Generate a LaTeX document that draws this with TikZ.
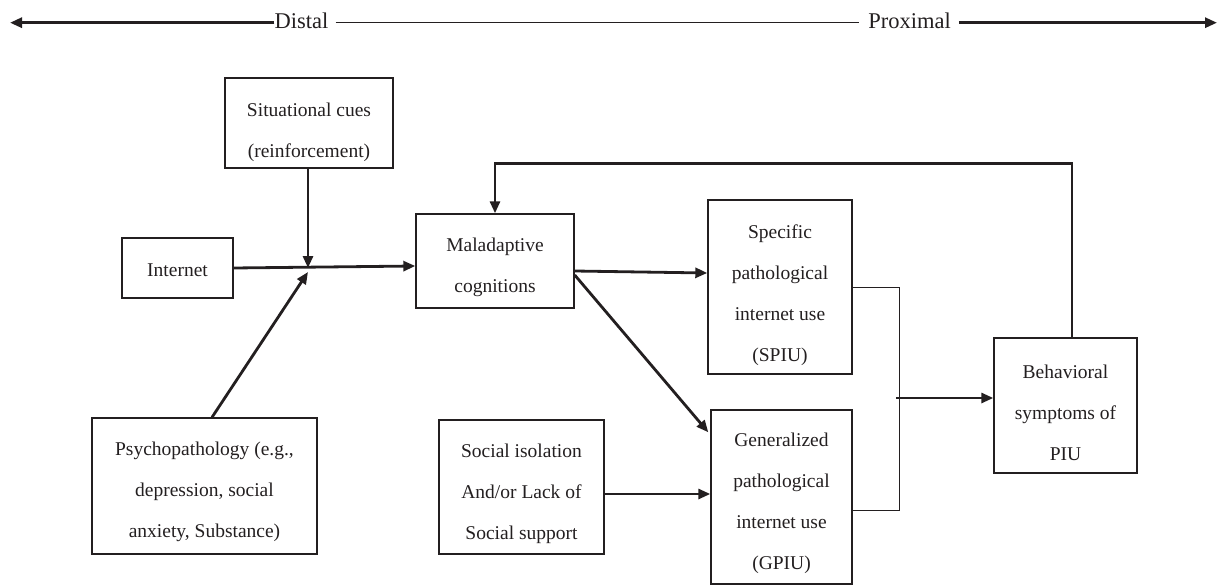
\documentclass[tikz,border=0pt]{standalone}
\usepackage{fontspec}
\setmainfont{Liberation Serif}
\usetikzlibrary{arrows.meta,calc}
\definecolor{ink}{RGB}{35,31,32}
\tikzset{
  box/.style={draw=ink, line width=1.4pt, rectangle, inner sep=0pt},
  txt/.style={text=ink, font=\fontsize{19.5}{41}\selectfont, align=center, inner sep=0pt},
  lbl/.style={text=ink, font=\fontsize{22.5}{27}\selectfont, inner sep=0pt},
  arr/.style={draw=ink, line width=2.8pt, -{Triangle[length=12pt,width=10pt]}},
  thinline/.style={draw=ink, line width=1pt},
}
\begin{document}
\begin{tikzpicture}[x=1pt,y=-1pt]
\useasboundingbox (0,0) rectangle (1218,586);

% top axis
\node[lbl] (dist) at (301.5,20.4) {Distal};
\node[lbl] (prox) at (909.5,20.4) {Proximal};
\coordinate (L) at (10,22.7);
\coordinate (R) at (1217,22.7);
\draw[arr] (dist.west |- L) -- (L);
\draw[thinline] ([xshift=7pt]dist.east |- L) -- ([xshift=-9pt]prox.west |- L);
\draw[arr] ([xshift=8pt]prox.east |- L) -- (R);

% boxes
\node[box, minimum width=168pt, minimum height=90pt] (sit) at (309,123) {};
\node[txt] (sitT) at (309,132) {Situational cues\\(reinforcement)};

\node[box, minimum width=111pt, minimum height=60pt] (int) at (177.5,268) {};
\node[txt] (intT) at (177.5,270.5) {Internet};

\node[box, minimum width=158pt, minimum height=94pt] (mal) at (495,261) {};
\node[txt] (malT) at (495,267.5) {Maladaptive\\cognitions};

\node[box, minimum width=144pt, minimum height=174pt] (spiu) at (780,287) {};
\node[txt] (spiuT) at (780,295) {Specific\\pathological\\internet use\\(SPIU)};

\node[box, minimum width=141pt, minimum height=174pt] (gpiu) at (781.5,497) {};
\node[txt] (gpiuT) at (781.5,503) {Generalized\\pathological\\internet use\\(GPIU)};

\node[box, minimum width=143pt, minimum height=135pt] (beh) at (1065.5,405.5) {};
\node[txt] (behT) at (1065.5,412.5) {Behavioral\\symptoms of\\PIU};

\node[box, minimum width=225pt, minimum height=136pt] (psy) at (204.5,486) {};
\node[txt] (psyT) at (204.5,492) {Psychopathology (e.g.,\\depression, social\\anxiety, Substance)};

\node[box, minimum width=165pt, minimum height=134pt] (soc) at (521.5,487) {};
\node[txt] (socT) at (521.5,494) {Social isolation\\And/or Lack of\\Social support};

% connectors
\coordinate (J) at (308,268);
\draw[arr] (sit.south -| J) -- (J);
\draw[arr] (int.east) -- ([yshift=-5pt]mal.west);
\draw[arr] ([xshift=7.5pt]psy.north) -- ([yshift=-4pt]J);
\draw[arr] ([yshift=-10pt]mal.east) -- ([yshift=14pt]spiu.west);
\draw[arr] ([yshift=-14pt]mal.east) -- ([xshift=-2pt,yshift=-23pt]gpiu.north west);
\draw[arr] ([yshift=-7pt]soc.east) -- ([yshift=-7pt]soc.east -| gpiu.west);

% bracket
\coordinate (brb) at (899,510);
\draw[thinline] (spiu.east) -| (brb) -- (brb -| gpiu.east);
\coordinate (brm) at (896,398);
\draw[arr] (brm) -- (brm -| beh.west);

% feedback loop
\draw[arr] ([xshift=6.5pt]beh.north) -- ++(0,-174) -| (mal.north);
\end{tikzpicture}
\end{document}
